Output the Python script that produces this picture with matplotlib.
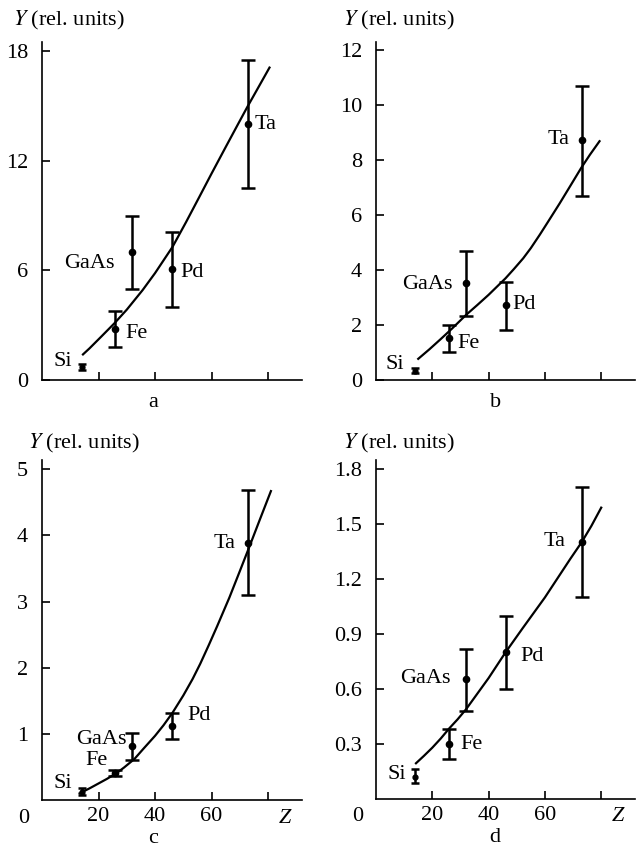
import matplotlib
matplotlib.use('Agg')
import matplotlib.pyplot as plt

plt.rcParams['font.family'] = ['Liberation Serif', 'DejaVu Serif']
plt.rcParams['mathtext.fontset'] = 'stix'

# ── data ──
elements = ['Si', 'Fe', 'GaAs', 'Pd', 'Ta']
z_vals = [14, 26, 32, 46, 73]

# panel a
y_a = [0.7, 2.8, 7.0, 6.1, 14.0]
lo_a = [0.55, 1.8, 5.0, 4.0, 10.5]
hi_a = [0.85, 3.8, 9.0, 8.1, 17.5]
curve_z_a = [14.5, 16.8, 21, 25.6, 30, 35.6, 40, 46.2, 51, 55.6, 60, 65, 69, 72.6, 76.5, 80.5]
curve_y_a = [1.4, 1.73, 2.38, 3.1, 3.85, 4.92, 5.85, 7.29, 8.65, 10.0, 11.3, 12.75, 13.9, 14.93, 16.0, 17.1]

# panel b
y_b = [0.33, 1.54, 3.52, 2.73, 8.72]
lo_b = [0.24, 1.03, 2.34, 1.82, 6.70]
hi_b = [0.42, 2.0, 4.71, 3.58, 10.71]
curve_z_b = [15, 19, 23, 27, 32, 36, 40, 43, 46, 49, 52.3, 55, 58.2, 61, 65.2, 69, 72.9, 76, 79.4]
curve_y_b = [0.77, 1.12, 1.49, 1.87, 2.37, 2.73, 3.1, 3.4, 3.7, 4.04, 4.43, 4.8, 5.29, 5.74,
             6.42, 7.06, 7.72, 8.2, 8.69]

# panel c
y_c = [0.126, 0.41, 0.82, 1.12, 3.89]
lo_c = [0.07, 0.36, 0.61, 0.92, 3.10]
hi_c = [0.18, 0.45, 1.01, 1.31, 4.68]
curve_z_c = [13.3, 17, 20, 23, 26.5, 29, 32.7, 36, 40, 43, 46.2, 50, 53.3, 56, 59, 62, 66.3,
             70, 73.3, 77, 81]
curve_y_c = [0.10, 0.18, 0.25, 0.32, 0.41, 0.49, 0.62, 0.78, 0.97, 1.13, 1.32, 1.58, 1.83,
             2.06, 2.34, 2.63, 3.06, 3.46, 3.82, 4.23, 4.67]

# panel d
y_d = [0.122, 0.30, 0.653, 0.80, 1.40]
lo_d = [0.086, 0.22, 0.48, 0.60, 1.10]
hi_d = [0.162, 0.38, 0.82, 1.0, 1.70]
curve_z_d = [14.2, 17, 20, 23, 26, 29, 32, 36, 40, 43, 46, 49, 52, 56, 60, 63, 66, 69, 73,
             76.5, 80]
curve_y_d = [0.195, 0.235, 0.28, 0.33, 0.385, 0.435, 0.49, 0.575, 0.66, 0.73, 0.80, 0.865,
             0.93, 1.015, 1.1, 1.17, 1.24, 1.31, 1.40, 1.49, 1.59]

# label positions (data coords) per panel
lab_a = [(7.4, 1.0), (33.3, 2.55), (16.8, 6.4), (53, 5.9), (79, 14.0)]
lab_b = [(6.8, 0.55), (33, 1.34), (18.1, 3.49), (52.5, 2.73), (65, 8.77)]
lab_c = [(7.4, 0.25), (19.2, 0.6), (21, 0.92), (55.6, 1.28), (64.5, 3.88)]
lab_d = [(7.4, 0.131), (34, 0.295), (17.5, 0.659), (55.5, 0.777), (63.3, 1.405)]

W, H = 639, 848
fig = plt.figure(figsize=(W / 100, H / 100), dpi=100)


def make_ax(x0, x1, ytop, ybot):
    return fig.add_axes([x0 / W, 1 - ybot / H, (x1 - x0) / W, (ybot - ytop) / H])


panels = [
    dict(ax=make_ax(42, 302, 42, 380), y=y_a, lo=lo_a, hi=hi_a, cz=curve_z_a, cy=curve_y_a,
         lab=lab_a, ylim=18.5, yt=[0, 6, 12, 18], ytl=['0', '6', '12', '18'], name='a',
         zlab=False, ylab=(-0.11, 1.065), nm=(0.427, -0.068)),
    dict(ax=make_ax(376, 635, 42, 380), y=y_b, lo=lo_b, hi=hi_b, cz=curve_z_b, cy=curve_y_b,
         lab=lab_b, ylim=12.3, yt=[0, 2, 4, 6, 8, 10, 12], ytl=['0', '2', '4', '6', '8', '10', '12'],
         name='b', zlab=False, ylab=(-0.127, 1.065), nm=(0.46, -0.068)),
    dict(ax=make_ax(42, 302, 460, 800), y=y_c, lo=lo_c, hi=hi_c, cz=curve_z_c, cy=curve_y_c,
         lab=lab_c, ylim=5.14, yt=[1, 2, 3, 4, 5], ytl=['1', '2', '3', '4', '5'], name='c',
         zlab=True, ylab=(-0.055, 1.05), nm=(0.427, -0.112)),
    dict(ax=make_ax(376, 635, 460, 799), y=y_d, lo=lo_d, hi=hi_d, cz=curve_z_d, cy=curve_y_d,
         lab=lab_d, ylim=1.85, yt=[0.3, 0.6, 0.9, 1.2, 1.5, 1.8],
         ytl=['0.3', '0.6', '0.9', '1.2', '1.5', '1.8'], name='d', zlab=True,
         ylab=(-0.127, 1.05), nm=(0.46, -0.115)),
]

fs = 16
for p in panels:
    ax = p['ax']
    ax.set_xlim(0, 92)
    ax.set_ylim(0, p['ylim'])
    for s in ['top', 'right']:
        ax.spines[s].set_visible(False)
    for s in ['left', 'bottom']:
        ax.spines[s].set_linewidth(1.2)

    # fitted curve
    ax.plot(p['cz'], p['cy'], color='black', lw=1.6, solid_joinstyle='round')

    # points with error bars
    for i, el in enumerate(elements):
        yerr = [[p['y'][i] - p['lo'][i]], [p['hi'][i] - p['y'][i]]]
        small = el == 'Si'
        ax.errorbar([z_vals[i]], [p['y'][i]], yerr=yerr, fmt='o', color='black',
                    ms=3.5 if small else 4.5, elinewidth=1.8, capsize=3 if small else 5,
                    capthick=1.8)
        tx, ty = p['lab'][i]
        ax.text(tx, ty, el, fontsize=fs, ha='center', va='center')

    ax.set_yticks(p['yt'])
    ax.set_yticklabels(p['ytl'])
    ax.set_xticks([20, 40, 60, 80])
    if p['zlab']:
        ax.set_xticklabels(['20', '40', '60', ''])
        ax.text(-6.5, -0.053, '0', transform=ax.get_xaxis_transform(), fontsize=fs,
                ha='center', va='center')
        ax.text(86, -0.053, 'Z', transform=ax.get_xaxis_transform(), fontsize=fs,
                ha='center', va='center', style='italic')
    else:
        ax.set_xticklabels([])
    ax.tick_params(direction='in', length=6, width=1.2, labelsize=fs, pad=5)
    ax.tick_params(axis='y', pad=10)

    # y label above axis
    ax.text(p['ylab'][0], p['ylab'][1], r'$Y$' + ' (rel. units)', transform=ax.transAxes,
            fontsize=fs, ha='left', va='center')
    # panel letter
    ax.text(p['nm'][0], p['nm'][1], p['name'], transform=ax.transAxes,
            fontsize=fs, ha='center', va='center')

fig.savefig('out.png', dpi=100)
